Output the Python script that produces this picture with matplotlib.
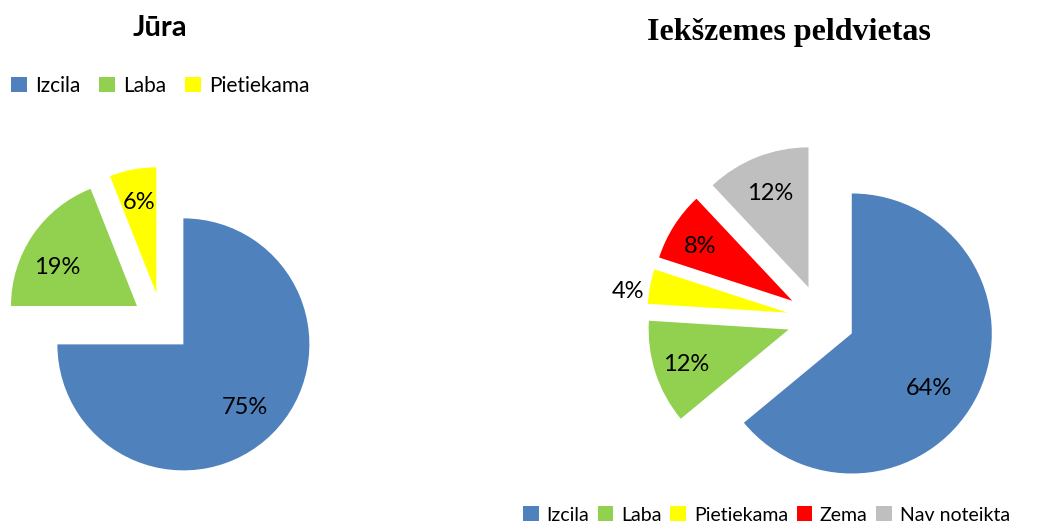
import matplotlib.pyplot as plt
from matplotlib.patches import Patch
import numpy as np

# Data
sea_labels = ["Izcila", "Laba", "Pietiekama"]
sea_values = [75, 19, 6]
sea_colors = ["#4F81BD", "#92D050", "#FFFF00"]

inland_labels = ["Izcila", "Laba", "Pietiekama", "Zema", "Nav noteikta"]
inland_values = [64, 12, 4, 8, 12]
inland_colors = ["#4F81BD", "#92D050", "#FFFF00", "#FF0000", "#BFBFBF"]

W, H = 1048, 524
sans = ["Lato", "DejaVu Sans"]
serif = ["Liberation Serif", "DejaVu Serif"]

fig = plt.figure(figsize=(W / 100, H / 100), dpi=100)
ax = fig.add_axes([0, 0, 1, 1])


def draw_pie(values, colors, center, radius, explode, label_dist, label_turn, fontsize):
    # matplotlib's explode is in data units, so scale by the radius
    wedges, _ = ax.pie(values, colors=colors, startangle=90, counterclock=False,
                       explode=[explode * radius] * len(values), radius=radius,
                       center=center, frame=True, wedgeprops=dict(linewidth=0))
    for w, v, d, t in zip(wedges, values, label_dist, label_turn):
        mid = np.deg2rad((w.theta1 + w.theta2) / 2 + t)
        cx, cy = w.center
        ax.text(cx + d * radius * np.cos(mid), cy + d * radius * np.sin(mid),
                f"{v}%", ha="center", va="center_baseline", fontsize=fontsize,
                family=sans, color="black")


# left pie: Jūra
draw_pie(sea_values, sea_colors, (162, H - 323), 126, 0.24,
         [0.69, 0.71, 0.75], [0, 7, 0], 17)
# right pie: Iekšzemes peldvietas
draw_pie(inland_values, inland_colors, (821, H - 319), 140, 0.243,
         [0.67, 0.77, 1.15, 0.77, 0.74], [-9, 0, 2.5, 1, 0], 17)

ax.set_xlim(0, W)
ax.set_ylim(0, H)
ax.set_aspect("equal")
ax.axis("off")

fig.text(160 / W, 1 - 36 / H, "Jūra", ha="center", va="baseline",
         fontsize=21, fontweight="bold", family=sans)
fig.text(789 / W, 1 - 40 / H, "Iekšzemes peldvietas", ha="center", va="baseline",
         fontsize=23, fontweight="bold", family=serif)

# legends
sea_handles = [Patch(facecolor=c, edgecolor="none") for c in sea_colors]
leg1 = fig.legend(sea_handles, sea_labels, loc="center left", ncol=3,
                  bbox_to_anchor=(11 / W, 1 - 86 / H), frameon=False,
                  borderpad=0, borderaxespad=0, handlelength=0.75, handleheight=0.75,
                  handletextpad=0.4, columnspacing=0.9,
                  prop=dict(family=sans, size=15))

inland_handles = [Patch(facecolor=c, edgecolor="none") for c in inland_colors]
leg2 = fig.legend(inland_handles, inland_labels, loc="center left", ncol=5,
                  bbox_to_anchor=(523 / W, 1 - 515 / H), frameon=False,
                  borderpad=0, borderaxespad=0, handlelength=0.8, handleheight=0.8,
                  handletextpad=0.4, columnspacing=0.45,
                  prop=dict(family=sans, size=14))

fig.savefig("out.png", dpi=100)
